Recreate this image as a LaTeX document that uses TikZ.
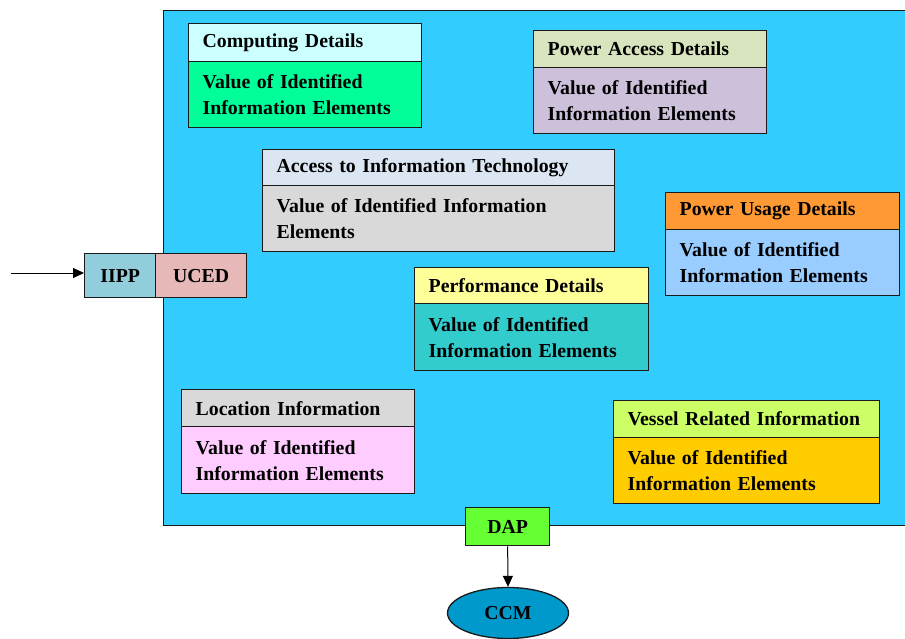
\documentclass[tikz,border=0pt]{standalone}
\usepackage{fontspec}
\setmainfont{Liberation Serif}
\usetikzlibrary{arrows.meta,shapes.geometric}
\definecolor{bgblue}{HTML}{33CCFF}
\definecolor{cAh}{HTML}{CCFFFF}\definecolor{cAb}{HTML}{00FF99}
\definecolor{cBh}{HTML}{D7E4BD}\definecolor{cBb}{HTML}{CCC0DA}
\definecolor{cCh}{HTML}{DCE6F2}\definecolor{cCb}{HTML}{D9D9D9}
\definecolor{cDh}{HTML}{FF9933}\definecolor{cDb}{HTML}{99CCFF}
\definecolor{cEh}{HTML}{FFFF99}\definecolor{cEb}{HTML}{33CCCC}
\definecolor{cFh}{HTML}{D9D9D9}\definecolor{cFb}{HTML}{FFCCFF}
\definecolor{cGh}{HTML}{CCFF66}\definecolor{cGb}{HTML}{FFCC00}
\definecolor{iippc}{HTML}{92CDDC}\definecolor{ucedc}{HTML}{E6B9B8}
\definecolor{dapc}{HTML}{66FF33}\definecolor{ccmc}{HTML}{0099CC}
\definecolor{edge}{HTML}{1A1A1A}
\tikzset{
  txt/.style={font=\fontsize{19.8}{26}\selectfont\bfseries},
  cell/.style={txt, draw=edge, line width=1.3pt, anchor=north west, align=left,
    inner xsep=14pt, inner ysep=0pt, text width=#1},
  small/.style={txt, draw=edge, line width=1.3pt, inner sep=0pt, align=center},
  conn/.style={line width=1pt, -{Triangle[length=11pt,width=10pt]}}
}
\begin{document}
\begin{tikzpicture}[x=1pt,y=-1pt]
\useasboundingbox (0,0) rectangle (905,639);
\clip (0,0) rectangle (905,639);
\node[draw=edge, line width=1.3pt, fill=bgblue, anchor=north west, minimum width=760pt,
  minimum height=515pt, inner sep=0pt] (frame) at (163,10) {};
% Computing Details
\node[cell=205pt, minimum height=38pt, fill=cAh] (ah) at (188,23) {Computing Details};
\node[cell=205pt, minimum height=66pt, fill=cAb] (ab) at (188,61) {Value of Identified\\Information Elements};
% Power Access Details
\node[cell=205pt, minimum height=37pt, fill=cBh] (bh) at (533,30) {Power Access Details};
\node[cell=205pt, minimum height=66pt, fill=cBb] (bb) at (533,67) {Value of Identified\\Information Elements};
% Access to Information Technology
\node[cell=324pt, minimum height=36pt, fill=cCh] (ch) at (262,149) {Access to Information Technology};
\node[cell=324pt, minimum height=66pt, fill=cCb] (cb) at (262,185) {Value of Identified Information\\Elements};
% Power Usage Details
\node[cell=206pt, minimum height=37pt, fill=cDh] (dh) at (665,192) {Power Usage Details};
\node[cell=206pt, minimum height=66pt, fill=cDb] (db) at (665,229) {Value of Identified\\Information Elements};
% Performance Details
\node[cell=206pt, minimum height=36pt, fill=cEh] (eh) at (414,267) {Performance Details};
\node[cell=206pt, minimum height=67pt, fill=cEb] (eb) at (414,303) {Value of Identified\\Information Elements};
% Location Information
\node[cell=205pt, minimum height=37pt, fill=cFh] (fh) at (181,389) {Location Information};
\node[cell=205pt, minimum height=67pt, fill=cFb] (fb) at (181,426) {Value of Identified\\Information Elements};
% Vessel Related Information
\node[cell=238pt, minimum height=37pt, fill=cGh] (gh) at (613,400) {Vessel Related Information};
\node[cell=238pt, minimum height=66pt, fill=cGb] (gb) at (613,437) {Value of Identified\\Information Elements};
% IIPP / UCED
\node[small, fill=iippc, minimum width=71pt, minimum height=44pt, anchor=north west] (iipp) at (84,253) {IIPP};
\node[small, fill=ucedc, minimum width=91pt, minimum height=44pt, anchor=north west] (uced) at (155,253) {UCED};
\coordinate (src) at (11,273);
\draw[conn] (src) -- (iipp.west |- src);
% DAP / CCM
\node[small, fill=dapc, minimum width=84pt, minimum height=38pt, anchor=north west] (dap) at (465,507) {DAP};
\node[small, ellipse, fill=ccmc, minimum width=121pt, minimum height=51pt] (ccm) at (508,613) {CCM};
\draw[conn] (dap.south) -- (ccm.north);
\end{tikzpicture}
\end{document}
